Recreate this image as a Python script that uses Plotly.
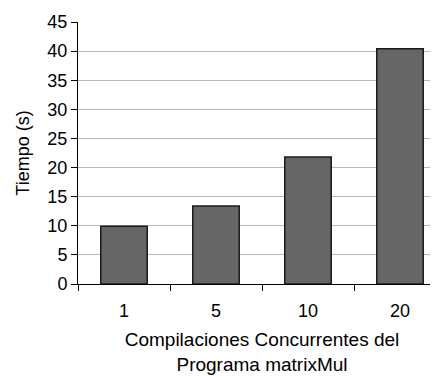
import plotly.graph_objects as go

categories = ["1", "5", "10", "20"]
tiempos = [9.9, 13.4, 21.8, 40.4]
y_ticks = [0, 5, 10, 15, 20, 25, 30, 35, 40, 45]

FONT = "Liberation Sans, Arial, sans-serif"

fig = go.Figure(
    go.Bar(
        x=categories,
        y=tiempos,
        marker=dict(color="#666666", line=dict(color="#1a1a1a", width=1.5)),
        width=0.505,
        hoverinfo="x+y",
    )
)

fig.update_layout(
    width=438,
    height=376,
    margin=dict(l=70, r=0, t=14, b=100, pad=0),
    paper_bgcolor="white",
    plot_bgcolor="white",
    showlegend=False,
    font=dict(family=FONT, color="#000000", size=18),
)

fig.update_xaxes(
    type="category",
    range=[-0.5, 3.5],
    tickson="boundaries",
    ticks="outside",
    ticklen=6,
    tickwidth=1,
    tickcolor="#000000",
    showline=True,
    linecolor="#000000",
    linewidth=1,
    showgrid=False,
    tickfont=dict(size=18, family=FONT, color="#000000"),
    ticklabelstandoff=10,
    title=dict(
        text="Compilaciones Concurrentes del<br>Programa matrixMul",
        font=dict(size=19, family=FONT, color="#000000"),
        standoff=13,
    ),
    automargin=False,
)

fig.update_yaxes(
    range=[0, 45],
    tickvals=y_ticks,
    ticks="outside",
    ticklen=6,
    tickwidth=1,
    tickcolor="#000000",
    showline=True,
    linecolor="#000000",
    linewidth=1,
    showgrid=True,
    gridcolor="#b8b8b8",
    gridwidth=1,
    zeroline=False,
    tickfont=dict(size=18, family=FONT, color="#000000"),
    title=dict(text="Tiempo (s)", font=dict(size=18, family=FONT, color="#000000"), standoff=13),
    automargin=False,
)

fig.write_html("out.html")
